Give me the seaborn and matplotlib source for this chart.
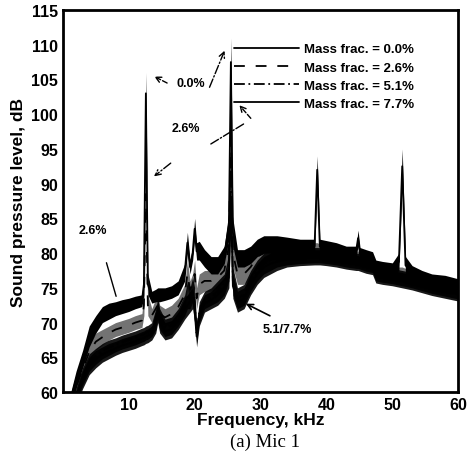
import numpy as np
import pandas as pd
import matplotlib
matplotlib.use("Agg")
import matplotlib.pyplot as plt
from matplotlib.ticker import MultipleLocator
import seaborn as sns

# frequency grid (kHz) shared by all series
freq = [1.2, 2, 3, 4, 5, 6, 7, 8, 9, 10, 11, 12, 12.3, 12.6, 12.9, 13.5, 14.1, 14.4,
        14.7, 15.5, 16.5, 17.5, 18.5, 18.9, 19.3, 19.7, 20.0, 20.3, 20.7, 21.5, 22.5,
        23.5, 24.5, 25.2, 25.5, 25.8, 26.5, 27.5, 28.5, 29.5, 30.5, 31.5, 32.5, 34, 36,
        38.2, 38.6, 39, 40, 41.5, 43, 44.5, 44.8, 45.1, 46, 47, 47.5, 48.5, 50, 51,
        51.5, 52, 53, 54.5, 56, 58, 60]

# lower / upper edge of each noisy trace (dB)
low_00 = [58, 60.5, 63.5, 66.5, 68.5, 70, 70.5, 71, 71.3, 71.6, 72, 72.3, 74, 100, 74,
          72.8, 73, 73, 73, 73.2, 73.5, 74, 76, 80, 77, 79, 82, 79, 79, 78, 77, 77, 78.5,
          82, 104, 81, 78, 78, 78.5, 79.5, 80, 80, 79.5, 79.8, 79.8, 80, 90, 79.8, 79.5,
          79.3, 79, 79.5, 81, 78.8, 78.5, 78.3, 77, 76.8, 76.8, 77.5, 90, 77, 76, 75.5,
          75, 74.8, 74.5]
high_00 = [60, 63, 66, 69.5, 71, 72.3, 72.8, 73, 73.3, 73.5, 73.8, 74, 77, 106, 77,
           74.5, 74.8, 75, 75, 75, 75.3, 76, 78.5, 83, 79, 81, 85, 81.5, 81.7, 80.5, 79.5,
           79.5, 81, 86, 111, 85, 80.5, 80.5, 81, 82, 82.5, 82.5, 82.5, 82.3, 82, 82, 94,
           82, 81.8, 81.5, 81, 81, 83.3, 80.8, 80.5, 80.2, 79, 78.8, 78.6, 80, 95, 79.5,
           78.2, 77.5, 77, 76.8, 76.3]

low_26 = [57, 59.5, 62, 64.5, 66, 66.8, 67.5, 68, 68.3, 68.6, 69, 69.3, 71, 86, 71, 70,
          70.5, 71, 70, 69.5, 70, 71, 72.5, 75, 73.5, 74, 75, 72, 74, 74.5, 74.5, 75, 76,
          79, 95, 78, 75.5, 75.5, 76.5, 78, 78.5, 79, 79, 79, 79, 79.2, 79.2, 79, 78.8,
          78.6, 78.4, 78.2, 78.2, 78, 77.8, 77.5, 76.5, 76.2, 76, 75.8, 75.8, 75.6, 75.3,
          75, 74.6, 74.2, 74]
high_26 = [59.5, 62, 64.5, 67, 68.5, 69, 69.5, 70, 70.3, 70.6, 71, 71.3, 74, 91, 74, 72,
           73.5, 74, 72.5, 72, 72.5, 73.5, 75.5, 79, 76, 77, 79, 75, 77, 77.5, 77.5, 78,
           79, 83, 101, 82, 78.5, 78.5, 79.5, 81, 81.5, 81.8, 81.5, 81.5, 81.5, 81.5, 81.5,
           81.3, 81, 80.8, 80.5, 80.3, 80.3, 80.2, 80, 79.7, 78.7, 78.4, 78.2, 78, 78,
           77.8, 77.5, 77.2, 76.8, 76.5, 76.2]

low_51 = [55, 58.5, 61, 63, 64, 64.8, 65.3, 65.8, 66.2, 66.5, 66.8, 67.2, 67.3, 67.5,
          67.6, 68, 69, 70.5, 69, 68, 68.3, 69.5, 71, 72, 72, 73, 71, 67, 70, 72, 72.5,
          73, 74, 76, 90, 74, 72, 72.5, 74.5, 76, 77, 77.5, 78, 78.3, 78.5, 78.6, 78.6,
          78.6, 78.5, 78.3, 78, 77.8, 77.8, 77.7, 77.4, 77.2, 76, 75.8, 75.6, 75.4, 75.3,
          75.2, 75, 74.6, 74.2, 73.8, 73.4]
high_51 = [57, 60.5, 63.5, 65.5, 66.3, 67, 67.5, 67.8, 68.2, 68.5, 68.8, 69.2, 69.3,
           69.5, 69.6, 70, 72, 73.5, 72, 70.5, 70.8, 72, 74, 76, 75, 76.5, 75, 70, 73,
           74.5, 75, 76, 77, 80, 97, 78, 75, 75.5, 77.5, 79, 80, 80.5, 80.5, 80.7, 80.8,
           80.8, 80.8, 80.8, 80.6, 80.4, 80.2, 80, 80, 79.8, 79.6, 79.3, 78.3, 78, 77.8,
           77.6, 77.5, 77.4, 77.2, 76.8, 76.5, 76, 75.8]

low_77 = [54.5, 58, 60.5, 62.5, 63.5, 64.3, 64.8, 65.3, 65.7, 66, 66.3, 66.7, 66.8, 67,
          67.1, 67.5, 68.5, 70, 68.5, 67.5, 67.8, 69, 70.5, 71, 71.5, 72, 70, 66.5, 69.5,
          71.5, 72, 72.5, 73.5, 75, 85, 73.5, 71.5, 72, 74, 75.5, 76.5, 77, 77.5, 78,
          78.2, 78.3, 78.3, 78.3, 78.2, 78, 77.7, 77.5, 77.5, 77.4, 77.1, 76.9, 75.7,
          75.5, 75.3, 75.1, 75, 74.9, 74.7, 74.3, 73.9, 73.5, 73.1]
high_77 = [56.5, 60, 63, 65, 66, 66.5, 67, 67.3, 67.7, 68, 68.3, 68.7, 68.8, 69, 69.1,
           69.5, 71.5, 73, 71.5, 70, 70.3, 71.5, 73.5, 74, 74.5, 75, 73.5, 69.5, 72.5, 74,
           74.5, 75.5, 76.5, 78, 90, 77, 74.5, 75, 77, 78.5, 79.5, 80, 80, 80.3, 80.5,
           80.5, 80.5, 80.5, 80.3, 80.1, 79.9, 79.7, 79.7, 79.5, 79.3, 79, 78, 77.7, 77.5,
           77.3, 77.2, 77.1, 76.9, 76.5, 76.2, 75.7, 75.5]

labels = ["Mass frac. = 0.0%", "Mass frac. = 2.6%", "Mass frac. = 5.1%", "Mass frac. = 7.7%"]
edges = [(low_00, high_00), (low_26, high_26), (low_51, high_51), (low_77, high_77)]
styles = ["-", (0, (6, 6)), (0, (6, 2, 1, 2)), "-"]
band_alpha = [1.0, 0.55, 0.9, 0.9]

sns.set_style("white")
plt.rcParams["font.family"] = ["Liberation Sans", "DejaVu Sans"]
plt.rcParams["font.weight"] = "bold"
plt.rcParams.update({"text.color": "black", "axes.labelcolor": "black",
                     "xtick.color": "black", "ytick.color": "black"})

fig = plt.figure(figsize=(4.69, 4.56), dpi=100)
ax = fig.add_axes([0.134, 0.138, 0.843, 0.838])

# draw from last to first so 0.0% ends up on top
for i in [3, 2, 1, 0]:
    lo, hi = edges[i]
    df = pd.DataFrame({"freq": freq + freq, "spl": lo + hi})
    sns.lineplot(data=df, x="freq", y="spl", estimator="mean", errorbar=("pi", 100),
                 color="black", linestyle=styles[i], linewidth=1.3, label=labels[i],
                 err_kws={"alpha": band_alpha[i], "linewidth": 0}, ax=ax)

ax.set_xlim(0, 60)
ax.set_ylim(60, 115)
ax.set_xticks([10, 20, 30, 40, 50, 60])
ax.set_yticks(range(60, 116, 5))
ax.xaxis.set_minor_locator(MultipleLocator(2))
ax.yaxis.set_minor_locator(MultipleLocator(1))
ax.tick_params(which="both", direction="in", top=False, right=False, width=1.5,
               labelsize=11.5, colors="black")
ax.tick_params(which="major", length=7)
ax.tick_params(which="minor", length=3.5)
for lab in ax.get_xticklabels() + ax.get_yticklabels():
    lab.set_fontweight("bold")
for s in ax.spines.values():
    s.set_linewidth(2)
    s.set_color("black")

ax.set_xlabel("Frequency, kHz", fontsize=12.5, fontweight="bold", labelpad=0)
ax.set_ylabel("Sound pressure level, dB", fontsize=12.5, fontweight="bold", labelpad=4)

handles, labs = ax.get_legend_handles_labels()
order = [labs.index(l) for l in labels]
ax.legend([handles[k] for k in order], labels, loc="upper left",
          bbox_to_anchor=(0.42, 0.927), frameon=False, handlelength=4.9,
          labelspacing=0.45, handletextpad=0.4, borderaxespad=0,
          prop={"weight": "bold", "size": 9.5})

txt = dict(fontsize=9, fontweight="bold")
ax.text(19.4, 104.5, "0.0%", ha="center", va="center", **txt)
ax.text(18.6, 98, "2.6%", ha="center", va="center", **txt)
ax.text(4.5, 83.3, "2.6%", ha="center", va="center", **txt)
ax.text(30.3, 69.1, "5.1/7.7%", ha="left", va="center", **txt)

ax.annotate("", xy=(13.5, 105.6), xytext=(16.2, 104.3),
            arrowprops=dict(arrowstyle="->", ls="--", lw=1, color="black"))
ax.annotate("", xy=(24.7, 109.5), xytext=(22.1, 103.5),
            arrowprops=dict(arrowstyle="->", ls="-.", lw=1, color="black"))
ax.annotate("", xy=(13.5, 90.8), xytext=(16.7, 93.2),
            arrowprops=dict(arrowstyle="->", ls="-.", lw=1, color="black"))
ax.annotate("", xy=(27.8, 98.8), xytext=(22.1, 95.5),
            arrowprops=dict(arrowstyle="-", ls="-.", lw=1, color="black"))
ax.annotate("", xy=(26.5, 101.6), xytext=(28.8, 99.1),
            arrowprops=dict(arrowstyle="->", ls="--", lw=1, color="black"))
ax.annotate("", xy=(8.2, 73.4), xytext=(6.5, 79),
            arrowprops=dict(arrowstyle="-", lw=1, color="black"))
ax.annotate("", xy=(27.4, 72.9), xytext=(31.8, 70.8),
            arrowprops=dict(arrowstyle="->", lw=1.2, color="black"))

fig.text(0.565, 0.031, "(a) Mic 1", ha="center", va="center", fontsize=13.5,
         family=["Liberation Serif", "DejaVu Serif"], fontweight="normal")

fig.savefig("out.png", dpi=100)
